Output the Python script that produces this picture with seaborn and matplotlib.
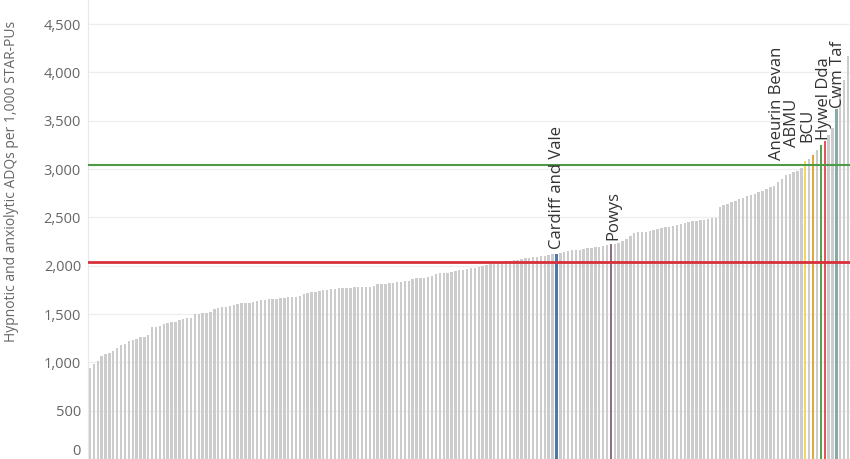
import numpy as np
import pandas as pd
import matplotlib
matplotlib.use("Agg")
import matplotlib.pyplot as plt
import seaborn as sns

# ---------------- data ----------------
practice_values = [
    944, 979, 1013, 1065, 1089, 1100, 1117, 1151, 1175, 1186, 1220, 1227, 1237, 1265, 1265, 1279,
    1369, 1369, 1376, 1392, 1410, 1417, 1417, 1437, 1444, 1462, 1462, 1496, 1496, 1506, 1513, 1520,
    1548, 1565, 1572, 1575, 1582, 1589, 1600, 1610, 1610, 1617, 1624, 1634, 1641, 1641, 1651, 1658,
    1658, 1662, 1669, 1675, 1675,
    1680, 1690, 1712, 1722, 1726, 1731, 1737, 1744, 1750, 1757, 1763, 1766, 1769, 1772, 1774, 1777,
    1780, 1782, 1782, 1783, 1795, 1806, 1811, 1815, 1820, 1825, 1830, 1834, 1839, 1846, 1862, 1868,
    1872, 1877, 1883, 1890, 1910, 1920, 1924, 1928, 1938, 1947, 1955, 1961, 1968, 1974, 1981, 1987,
    1995, 2004, 2013, 2022, 2030, 2038, 2045, 2051, 2057, 2062, 2068, 2075, 2082, 2089, 2094, 2099,
    2103, 2110, 2118,
    2134, 2142, 2150, 2158, 2161, 2168, 2174, 2180, 2185, 2190, 2197, 2203, 2210,
    2228, 2236, 2255, 2278, 2310, 2342, 2345, 2348, 2351, 2360, 2368, 2377, 2386, 2396, 2404, 2413,
    2420, 2430, 2440, 2452, 2460, 2466, 2472, 2478, 2484, 2490, 2496, 2612, 2625, 2640, 2660, 2675,
    2686, 2702, 2720, 2732, 2745, 2758, 2778, 2796, 2810, 2830, 2862, 2900, 2935, 2952, 2968, 2985,
    3013,
    3106, 3196, 3348, 3427, 3823, 3927, 4168,
]
board_names = ["Cardiff and Vale", "Powys", "Aneurin Bevan", "ABMU", "BCU", "Hywel Dda", "Cwm Taf"]
board_values = [2124, 2220, 3082, 3151, 3247, 3289, 3617]
board_colors = ["#4e79a7", "#8f6d85", "#f1d66f", "#e3a63d", "#59a14f", "#e15759", "#86aba4"]
practice_color = "#cccccc"

green_line_value = 3040
red_line_value = 2037
y_ticks = [0, 500, 1000, 1500, 2000, 2500, 3000, 3500, 4000, 4500]
y_label = "Hypnotic and anxiolytic ADQs per 1,000 STAR-PUs"

# ---------------- build table ----------------
df = pd.DataFrame({
    "name": ["Practice"] * len(practice_values) + board_names,
    "value": practice_values + board_values,
})
df = df.sort_values("value", kind="stable").reset_index(drop=True)
df["pos"] = np.arange(len(df))
palette = {"Practice": practice_color}
palette.update(dict(zip(board_names, board_colors)))

# ---------------- style ----------------
sns.set_style("white")
plt.rcParams["font.family"] = ["Open Sans", "DejaVu Sans"]

W, H = 850, 459
fig = plt.figure(figsize=(W / 100, H / 100), dpi=100)
ax = fig.add_axes([88 / W, 0, 762 / W, 1])

sns.barplot(data=df, x="pos", y="value", hue="name", palette=palette, dodge=False,
            width=0.62, saturation=1, legend=False, ax=ax, zorder=2,
            linewidth=0, edgecolor="none")

n = len(df)
ax.set_xlim(-0.5, n - 0.5)
ax.set_ylim(0, 4750)
ax.set_xticks([])
ax.set_xlabel("")
ax.set_ylabel("")
ax.set_yticks(y_ticks)
ax.set_yticklabels([f"{v:,}" for v in y_ticks])
ax.tick_params(axis="y", length=0, pad=5, labelsize=10.5, labelcolor="#666666")
for lbl in ax.get_yticklabels():
    if lbl.get_text() == "0":
        lbl.set_verticalalignment("bottom")
ax.yaxis.grid(True, color="#eeeeee", lw=0.9)
ax.set_axisbelow(True)
for s in ["top", "right", "bottom"]:
    ax.spines[s].set_visible(False)
ax.spines["left"].set_color("#e8e8e8")
ax.spines["left"].set_linewidth(0.8)

ax.axhline(green_line_value, color="#4f9a45", lw=1.5, zorder=5)
ax.axhline(red_line_value, color="#d7303a", lw=2.0, zorder=5)

# labels for the health boards
label_offsets = {
    "Cardiff and Vale": (1, 5), "Powys": (2, 4), "Aneurin Bevan": (-28, 1),
    "ABMU": (-21, 8), "BCU": (-13, 3), "Hywel Dda": (-1, 1), "Cwm Taf": (2, 1),
}
for name in board_names:
    row = df[df["name"] == name].iloc[0]
    dx, dy = label_offsets[name]
    ax.annotate(name, xy=(row["pos"], row["value"]), xytext=(dx, dy),
                textcoords="offset pixels", rotation=90, ha="center", va="bottom",
                fontsize=12, color="#333333", zorder=6)

fig.text(12 / W, 1 - 181 / H, y_label, rotation=90, ha="center", va="center",
         fontsize=10, color="#666666")

fig.savefig("out.png", dpi=100)
